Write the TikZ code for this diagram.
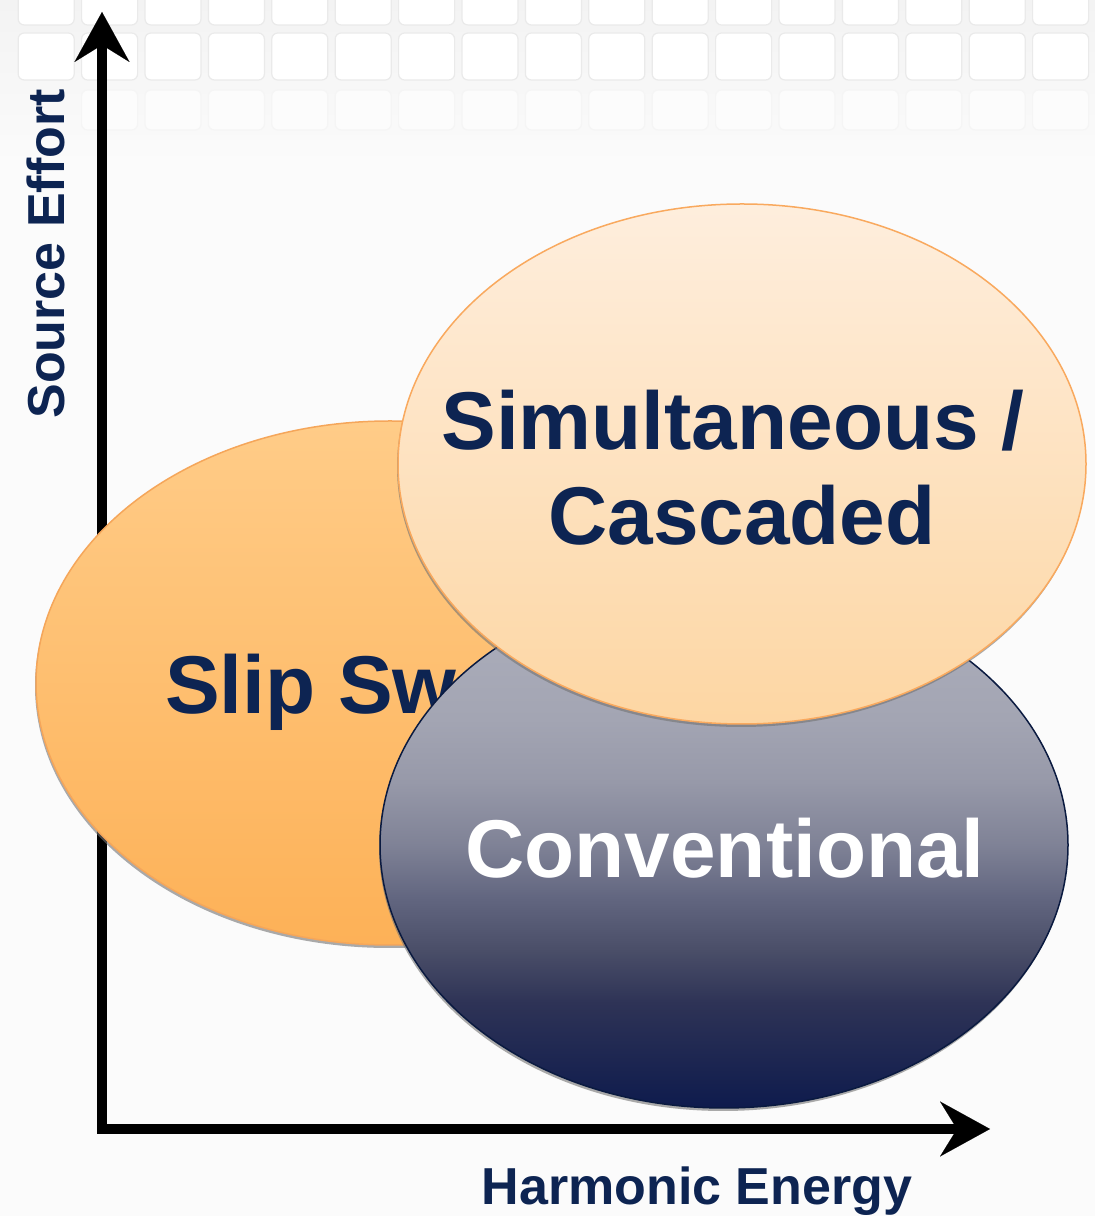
\documentclass[tikz,border=0pt]{standalone}
\usepackage{fontspec}
\setmainfont{Liberation Sans}
\usetikzlibrary{arrows.meta,shapes.geometric,shadows}
\definecolor{navy}{HTML}{0D2452}
\definecolor{slipTop}{HTML}{FFCC88}
\definecolor{slipBot}{HTML}{FDB157}
\definecolor{slipEdge}{HTML}{F5A65A}
\definecolor{simTop}{HTML}{FEEEDD}
\definecolor{simBot}{HTML}{FDD6A3}
\definecolor{simEdge}{HTML}{F9A95E}
\definecolor{convEdge}{HTML}{0A1A40}
\definecolor{bgcell}{HTML}{EAEAEA}
\definecolor{bgband}{HTML}{F3F3F3}
\definecolor{bgbase}{HTML}{FBFBFB}
\pgfdeclareverticalshading{convshade}{100bp}{%
  color(0bp)=(rgb,255:red,14;green,27;blue,77);
  color(25bp)=(rgb,255:red,14;green,27;blue,77);
  color(35bp)=(rgb,255:red,46;green,51;blue,86);
  color(40bp)=(rgb,255:red,74;green,78;blue,104);
  color(45bp)=(rgb,255:red,98;green,102;blue,128);
  color(50bp)=(rgb,255:red,127;green,130;blue,150);
  color(56bp)=(rgb,255:red,151;green,153;blue,169);
  color(62bp)=(rgb,255:red,163;green,165;blue,179);
  color(75bp)=(rgb,255:red,174;green,176;blue,189);
  color(100bp)=(rgb,255:red,174;green,176;blue,189)}
\tikzset{
  blob/.style={ellipse, inner sep=0pt, line width=1.5pt,
    drop shadow={shadow xshift=-1pt, shadow yshift=-3pt, fill=black!55, opacity=0.6}},
  bigtext/.style={font=\bfseries\fontsize{82}{96}\selectfont, inner sep=0pt},
  axtext/.style={font=\bfseries\fontsize{52}{60}\selectfont, text=navy, inner sep=0pt},
  axis/.style={line width=10pt,
    arrows={Stealth[length=50pt,width=55pt,inset=17pt,line width=0.1pt]-Stealth[length=50pt,width=55pt,inset=17pt,line width=0.1pt]}},
  cell/.style={draw=bgcell, line width=1.2pt, rounded corners=6pt, fill=white}
}
\begin{document}
\begin{tikzpicture}[x=1pt,y=1pt]
\useasboundingbox (0,0) rectangle (1095,1216);
\fill[bgbase] (0,0) rectangle (1095,1216);
\shade[top color=bgband, bottom color=bgbase] (0,1050) rectangle (1095,1216);
% faint background cells
\foreach \i in {-2,...,15}{
  \draw[cell] (141+63.4*\i+4,1226) rectangle (141+63.4*\i+60,1191);
  \draw[cell] (141+63.4*\i+4,1183) rectangle (141+63.4*\i+60,1136);
}
\foreach \i in {-1,...,17}{
  \draw[cell, draw=black!4, fill=black!1] (141+63.4*\i+4,1126) rectangle (141+63.4*\i+60,1086);
}
% axes (behind the ellipses)
\coordinate (ytip) at (102,1204);
\coordinate (origin) at (102,87);
\coordinate (xtip) at (990,87);
\draw[axis, line join=miter] (ytip) -- (origin) -- (xtip);
\node[axtext, rotate=90, anchor=base] (ylab) at (64,962) {Source Effort};
\node[axtext, anchor=base] (xlab) at (697,11) {Harmonic Energy};
% ellipses
\node[blob, minimum width=708pt, minimum height=524pt, draw=slipEdge,
  top color=slipTop, bottom color=slipBot] (slip) at (390,533) {};
\node[bigtext, text=navy, anchor=base west] (sliptxt) at (165,502) {Slip Sweep};
\node[blob, minimum width=688pt, minimum height=526pt, draw=convEdge,
  shading=convshade] (conv) at (724,371) {};
\node[bigtext, text=white, anchor=base] (convtxt) at (725,338) {Conventional};
\node[blob, minimum width=688pt, minimum height=520pt, draw=simEdge,
  top color=simTop, bottom color=simBot] (sim) at (742,752) {};
\node[bigtext, text=navy, anchor=base] (simtxt1) at (733,766) {Simultaneous /};
\node[bigtext, text=navy, anchor=base] (simtxt2) at (742,671) {Cascaded};
\end{tikzpicture}
\end{document}
